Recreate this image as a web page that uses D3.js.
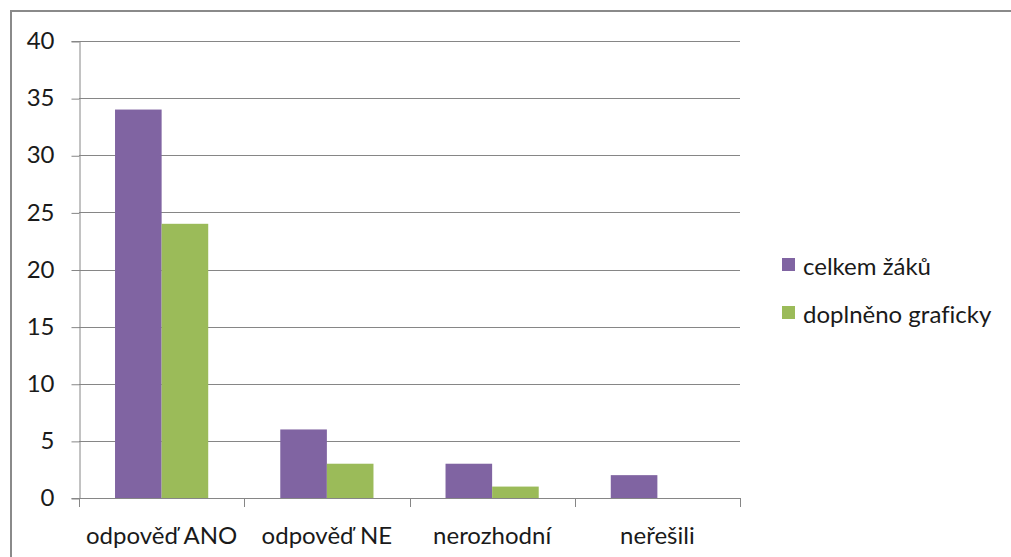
<!DOCTYPE html>
<html>
<head>
<meta charset="utf-8">
<script src="https://cdn.jsdelivr.net/npm/d3@7"></script>
<style>
  html, body { margin: 0; padding: 0; background: #fff; }
  svg { display: block; }
  text { font-family: Lato, "Open Sans", sans-serif; fill: #1a1a1a; font-variant-ligatures: none; }
</style>
</head>
<body>
<svg id="chart" width="1011" height="557"></svg>
<script>
// Answers to the question and counts of pupils
const categories = ["odpověď ANO", "odpověď NE", "nerozhodní", "neřešili"];
const seriesNames = ["celkem žáků", "doplněno graficky"];
const celkemZaku = [34, 6, 3, 2];
const doplnenoGraficky = [24, 3, 1, 0];
const yTicks = [0, 5, 10, 15, 20, 25, 30, 35, 40];
const colors = ["#8064A2", "#9BBB59"];

const svg = d3.select("#chart");
const fontSize = "24px";

// Outer chart border
svg.append("rect")
  .attr("x", 11).attr("y", 11)
  .attr("width", 1020).attr("height", 580)
  .attr("fill", "none")
  .attr("stroke", "#8a8a8a")
  .attr("stroke-width", 2);

const plot = { left: 79, right: 740, top: 41, bottom: 498 };

const x0 = d3.scaleBand()
  .domain(categories)
  .range([plot.left, plot.right])
  .paddingInner(0)
  .paddingOuter(0);

const barW = x0.bandwidth() * 0.282;
const x1 = d3.scaleBand()
  .domain(seriesNames)
  .range([0, barW * 2]);

const y = d3.scaleLinear()
  .domain([0, 40])
  .range([plot.bottom, plot.top]);

// Horizontal gridlines
svg.append("g")
  .selectAll("line")
  .data(yTicks.filter(t => t > 0))
  .join("line")
  .attr("x1", plot.left).attr("x2", plot.right)
  .attr("y1", d => Math.round(y(d)) + 0.5)
  .attr("y2", d => Math.round(y(d)) + 0.5)
  .attr("stroke", "#868686")
  .attr("stroke-width", 1);

// Y axis
const yAxis = d3.axisLeft(y)
  .tickValues(yTicks)
  .tickSize(8)
  .tickPadding(17)
  .tickFormat(d3.format("d"));

const gy = svg.append("g")
  .attr("transform", `translate(${plot.left + 0.5},0)`)
  .call(yAxis);
gy.select(".domain").attr("stroke", "#868686");
gy.selectAll(".tick line").attr("stroke", "#868686")
  .attr("transform", "translate(0,0.5)");
gy.selectAll(".tick text")
  .style("font-family", "Lato, 'Open Sans', sans-serif")
  .style("font-size", fontSize)
  .attr("fill", "#1a1a1a");

// Bars
const rows = categories.map((c, i) => ({
  category: c,
  values: [celkemZaku[i], doplnenoGraficky[i]]
}));

const groups = svg.append("g")
  .selectAll("g")
  .data(rows)
  .join("g")
  .attr("transform", d => `translate(${x0(d.category) + (x0.bandwidth() - barW * 2) / 2},0)`);

groups.selectAll("rect")
  .data(d => d.values.map((v, j) => ({ name: seriesNames[j], value: v, j })))
  .join("rect")
  .attr("x", d => x1(d.name))
  .attr("width", x1.bandwidth())
  .attr("y", d => y(d.value))
  .attr("height", d => y(0) - y(d.value))
  .attr("fill", d => colors[d.j]);

// X axis with ticks at category boundaries
const boundaries = categories.map(c => x0(c)).concat([plot.right]);
const gx = svg.append("g");
gx.append("line")
  .attr("x1", plot.left).attr("x2", plot.right)
  .attr("y1", plot.bottom + 0.5).attr("y2", plot.bottom + 0.5)
  .attr("stroke", "#868686");
gx.selectAll("line.tick")
  .data(boundaries)
  .join("line")
  .attr("class", "tick")
  .attr("x1", d => Math.round(d) + 0.5).attr("x2", d => Math.round(d) + 0.5)
  .attr("y1", plot.bottom).attr("y2", plot.bottom + 9)
  .attr("stroke", "#868686");
gx.selectAll("text")
  .data(categories)
  .join("text")
  .attr("x", d => x0(d) + x0.bandwidth() / 2)
  .attr("y", 534)
  .attr("text-anchor", "middle")
  .attr("dominant-baseline", "central")
  .style("font-size", fontSize)
  .text(d => d);

// Legend
const legend = svg.append("g")
  .selectAll("g")
  .data(seriesNames)
  .join("g")
  .attr("transform", (d, i) => `translate(782,${258 + i * 48})`);
legend.append("rect")
  .attr("width", 13).attr("height", 13)
  .attr("fill", (d, i) => colors[i]);
legend.append("text")
  .attr("x", 21).attr("y", 7)
  .attr("dominant-baseline", "central")
  .style("font-size", fontSize)
  .text(d => d);
</script>
</body>
</html>
